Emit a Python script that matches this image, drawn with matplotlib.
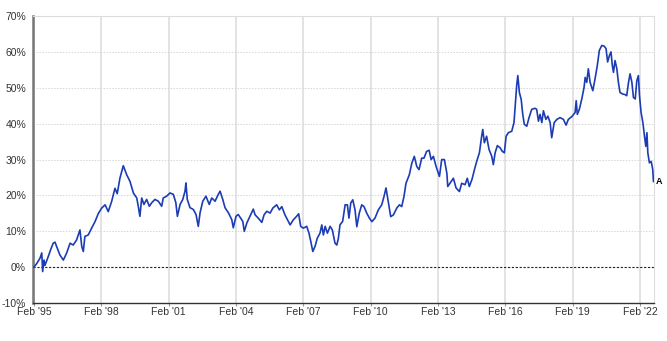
import matplotlib.pyplot as plt

# decimal years and cumulative return (%)
years = [
    1995.08, 1995.20, 1995.35, 1995.43, 1995.47, 1995.53, 1995.57, 1995.72, 1995.83, 1995.94,
    1996.02, 1996.09, 1996.24, 1996.39, 1996.54, 1996.69, 1996.83, 1996.98, 1997.13, 1997.21,
    1997.28, 1997.35, 1997.50, 1997.65, 1997.80, 1997.95, 1998.10, 1998.25, 1998.39, 1998.54,
    1998.69, 1998.79, 1998.91, 1999.06, 1999.21, 1999.36, 1999.51, 1999.66, 1999.73, 1999.80,
    1999.88, 1999.98, 2000.10, 2000.22, 2000.33, 2000.47, 2000.62, 2000.77, 2000.84, 2000.99,
    2001.14, 2001.29, 2001.40, 2001.47, 2001.59, 2001.71, 2001.81, 2001.85, 2001.91, 2002.03,
    2002.18, 2002.30, 2002.40, 2002.48, 2002.60, 2002.74, 2002.89, 2003.00, 2003.15, 2003.25,
    2003.37, 2003.49, 2003.59, 2003.74, 2003.89, 2003.96, 2004.08, 2004.18, 2004.38, 2004.45,
    2004.56, 2004.70, 2004.85, 2004.93, 2005.07, 2005.23, 2005.33, 2005.45, 2005.60, 2005.72,
    2005.89, 2006.01, 2006.12, 2006.26, 2006.41, 2006.49, 2006.63, 2006.78, 2006.87, 2006.96,
    2007.08, 2007.23, 2007.33, 2007.41, 2007.50, 2007.60, 2007.70, 2007.82, 2007.90, 2007.97,
    2008.05, 2008.15, 2008.27, 2008.37, 2008.49, 2008.57, 2008.64, 2008.71, 2008.83, 2008.94,
    2009.04, 2009.11, 2009.19, 2009.28, 2009.38, 2009.46, 2009.57, 2009.68, 2009.78, 2009.90,
    2010.02, 2010.13, 2010.27, 2010.42, 2010.57, 2010.67, 2010.76, 2010.87, 2010.97, 2011.09,
    2011.24, 2011.36, 2011.46, 2011.56, 2011.65, 2011.80, 2011.91, 2012.02, 2012.13, 2012.23,
    2012.35, 2012.45, 2012.57, 2012.68, 2012.77, 2012.87, 2012.99, 2013.14, 2013.24, 2013.36,
    2013.47, 2013.51, 2013.61, 2013.76, 2013.88, 2014.03, 2014.13, 2014.28, 2014.38, 2014.47,
    2014.59, 2014.72, 2014.80, 2014.92, 2015.02, 2015.07, 2015.14, 2015.24, 2015.35, 2015.47,
    2015.54, 2015.62, 2015.72, 2015.84, 2015.94, 2016.03, 2016.11, 2016.21, 2016.36, 2016.46,
    2016.51, 2016.58, 2016.63, 2016.70, 2016.78, 2016.85, 2016.92, 2017.03, 2017.13, 2017.25,
    2017.40, 2017.47, 2017.55, 2017.62, 2017.70, 2017.77, 2017.88, 2017.97, 2018.07, 2018.14,
    2018.25, 2018.37, 2018.51, 2018.66, 2018.78, 2018.88, 2019.04, 2019.18, 2019.23, 2019.28,
    2019.37, 2019.48, 2019.58, 2019.63, 2019.70, 2019.77, 2019.85, 2019.97, 2020.07, 2020.17,
    2020.26, 2020.37, 2020.48, 2020.56, 2020.63, 2020.71, 2020.78, 2020.84, 2020.89, 2020.96,
    2021.04, 2021.11, 2021.18, 2021.29, 2021.41, 2021.48, 2021.56, 2021.63, 2021.71, 2021.78,
    2021.86, 2021.93, 2022.00, 2022.05, 2022.12, 2022.20, 2022.27, 2022.33, 2022.38, 2022.42,
    2022.49, 2022.57, 2022.64, 2022.67,
]
returns = [
    0.0, 1.0, 2.5, 4.0, -1.2, 2.0, 0.5, 3.0, 5.0, 6.7,
    7.0, 5.8, 3.4, 2.0, 4.0, 6.7, 6.2, 7.6, 10.4, 5.8,
    4.4, 8.6, 9.0, 10.9, 12.7, 15.0, 16.5, 17.4, 15.5, 18.3,
    22.0, 20.5, 24.8, 28.3, 25.8, 23.9, 20.7, 19.3, 16.9, 14.2,
    19.3, 17.5, 18.9, 17.0, 18.0, 18.9, 18.4, 17.0, 19.3, 19.8,
    20.7, 20.3, 18.0, 14.2, 17.5, 18.9, 21.2, 23.5, 18.9, 16.6,
    16.1, 14.7, 11.4, 15.2, 18.4, 19.8, 17.5, 19.3, 18.4, 19.8,
    21.2, 18.9, 16.6, 15.2, 13.3, 11.0, 14.2, 14.7, 12.8, 10.0,
    12.3, 14.2, 16.2, 14.6, 13.7, 12.5, 14.6, 15.6, 15.1, 16.5,
    17.4, 16.0, 16.9, 14.6, 12.8, 11.8, 13.2, 14.2, 14.9, 11.4,
    10.9, 11.4, 9.5, 7.2, 4.4, 5.8, 8.1, 9.5, 11.8, 9.0,
    11.4, 9.5, 11.4, 10.4, 6.7, 6.2, 8.1, 11.8, 12.8, 17.4,
    17.4, 13.7, 17.9, 18.8, 16.0, 11.3, 15.1, 17.4, 16.9, 15.1,
    13.7, 12.7, 13.7, 16.0, 17.4, 19.7, 22.1, 17.9, 14.1, 14.6,
    16.5, 17.4, 16.9, 19.7, 23.4, 25.8, 29.0, 30.9, 28.1, 27.2,
    30.4, 30.4, 32.3, 32.6, 30.0, 30.9, 28.1, 25.3, 30.0, 30.0,
    26.2, 22.5, 23.4, 24.8, 22.1, 21.1, 23.4, 23.0, 24.8, 22.5,
    24.5, 27.7, 29.5, 31.9, 36.5, 38.4, 34.7, 36.5, 32.8, 30.9,
    28.6, 31.9, 33.9, 33.3, 32.3, 31.9, 36.5, 37.5, 37.9, 40.3,
    44.5, 50.6, 53.4, 48.7, 46.8, 42.6, 39.8, 39.3, 41.7, 44.0,
    44.3, 44.0, 40.7, 42.6, 40.3, 43.6, 41.2, 42.1, 40.3, 36.1,
    40.3, 41.2, 41.7, 41.2, 39.6, 41.2, 42.0, 43.1, 46.4, 42.6,
    44.0, 46.9, 50.1, 52.9, 51.5, 55.3, 51.5, 49.2, 52.5, 56.2,
    60.4, 61.8, 61.6, 60.9, 57.2, 59.0, 60.0, 56.2, 54.3, 57.6,
    55.3, 51.5, 48.7, 48.3, 48.1, 47.8, 51.5, 53.9, 51.5, 47.3,
    46.9, 52.0, 53.4, 47.8, 43.1, 40.3, 36.6, 33.7, 37.5, 31.9,
    29.1, 29.5, 27.2, 23.9,
]

tick_years = [1995.08, 1998.08, 2001.08, 2004.08, 2007.08, 2010.08, 2013.08, 2016.08, 2019.08, 2022.08]
tick_labels = ["Feb '95", "Feb '98", "Feb '01", "Feb '04", "Feb '07",
               "Feb '10", "Feb '13", "Feb '16", "Feb '19", "Feb '22"]
y_ticks = [-10, 0, 10, 20, 30, 40, 50, 60, 70]

plt.rcParams['font.family'] = ['Liberation Sans', 'DejaVu Sans']

fig = plt.figure(figsize=(6.67, 3.41), dpi=100)
ax = fig.add_axes([0.0495, 0.111, 0.9305, 0.842])

ax.plot(years, returns, color='#1c3cb4', linewidth=1.2, zorder=3)
ax.axhline(0, color='#222222', linewidth=0.8, linestyle=(0, (2, 1.5)), zorder=2)

ax.set_xlim(1995.04, 2022.68)
ax.set_ylim(-10, 70)
ax.set_xticks(tick_years)
ax.set_xticklabels(tick_labels)
ax.set_yticks(y_ticks)
ax.set_yticklabels([f"{v}%" for v in y_ticks])

# vertical grid solid, horizontal grid dotted
for t in tick_years:
    ax.axvline(t, color='#dedede', linewidth=1.2, zorder=1)
for v in y_ticks[2:-1]:
    ax.axhline(v, color='#d6d6d6', linewidth=0.7, linestyle=(0, (1.5, 1.5)), zorder=1)

ax.tick_params(axis='x', length=2, color='#999999', labelsize=7.5, labelcolor='#333333', pad=1)
ax.tick_params(axis='y', length=0, labelsize=7.5, labelcolor='#333333', pad=5)

ax.spines['left'].set_color('#777777')
ax.spines['left'].set_linewidth(1.8)
ax.spines['bottom'].set_color('#333333')
ax.spines['bottom'].set_linewidth(1.0)
ax.spines['top'].set_color('#dddddd')
ax.spines['right'].set_color('#dddddd')

ax.annotate('A', xy=(years[-1], returns[-1]), xytext=(2, 0), textcoords='offset points',
            fontsize=6.5, fontweight='bold', va='center', ha='left', annotation_clip=False)

plt.savefig('out.png', dpi=100)
plt.close()
